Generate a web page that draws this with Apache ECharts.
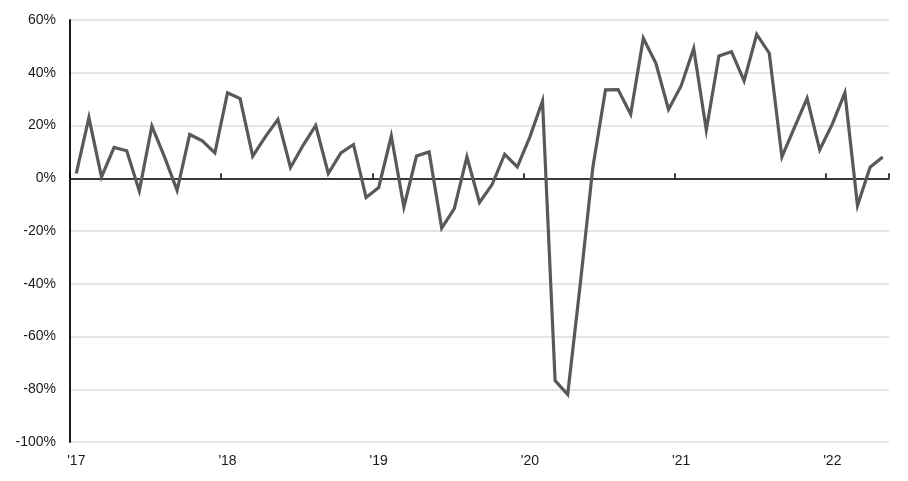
<!DOCTYPE html>
<html>
<head>
<meta charset="utf-8">
<script src="https://cdn.jsdelivr.net/npm/echarts@6/dist/echarts.min.js"></script>
<style>
html,body{margin:0;padding:0;background:#fff;}
#chart{width:908px;height:481px;}
</style>
</head>
<body>
<div id="chart"></div>
<script>
// Monthly categories, Jan 2017 .. May 2022
const years = [2017, 2018, 2019, 2020, 2021, 2022];
const yearLabels = ["'17", "'18", "'19", "'20", "'21", "'22"];
const lastYearMonths = 5;

// Year-over-year change (%)
const values2017 = [1.8, 23.0, 0.5, 11.7, 10.4, -4.8, 19.8, 8.1, -4.6, 16.6, 14.2, 9.6];
const values2018 = [32.4, 30.2, 8.4, 15.7, 22.3, 4.1, 12.5, 20.0, 1.8, 9.6, 12.8, -7.3];
const values2019 = [-3.5, 16.0, -10.9, 8.4, 10.0, -18.9, -11.5, 8.1, -9.2, -2.4, 9.1, 4.3];
const values2020 = [15.7, 29.3, -76.7, -82.0, -40.0, 4.3, 33.5, 33.6, 24.3, 53.1, 43.6, 26.1];
const values2021 = [35.0, 49.2, 18.3, 46.4, 48.0, 36.9, 54.6, 47.4, 8.1, 19.3, 30.3, 10.8];
const values2022 = [20.5, 32.4, -10.3, 4.2, 8.1];

const yTicks = { min: -100, max: 60, interval: 20 };

const values = [].concat(values2017, values2018, values2019, values2020, values2021, values2022);
const categories = [];
const catLabel = {};
years.forEach((y, yi) => {
  const n = (yi === years.length - 1) ? lastYearMonths : 12;
  for (let m = 1; m <= n; m++) {
    const key = y + '-' + (m < 10 ? '0' + m : m);
    categories.push(key);
    if (m === 1) catLabel[key] = yearLabels[yi];
  }
});

const FONT = 'Liberation Sans, Arial, sans-serif';
const chart = echarts.init(document.getElementById('chart'), null, { renderer: 'canvas' });
chart.setOption({
  animation: false,
  backgroundColor: '#ffffff',
  grid: { left: 70, right: 19, top: 20, bottom: 39, containLabel: false },
  xAxis: [
    {
      type: 'category',
      data: categories,
      position: 'bottom',
      boundaryGap: true,
      axisLine: { show: false, onZero: false },
      axisTick: { show: false },
      splitLine: { show: false },
      axisLabel: {
        show: true,
        interval: (idx) => idx % 12 === 0,
        formatter: (v) => catLabel[v] || '',
        color: '#1a1a1a',
        fontFamily: FONT,
        fontSize: 14,
        margin: 12
      }
    },
    {
      type: 'category',
      data: categories,
      boundaryGap: true,
      axisLine: { show: true, onZero: true, lineStyle: { color: '#000000', width: 1.5 } },
      axisTick: { show: true, inside: false, length: 5, interval: (idx) => idx % 12 === 0, lineStyle: { color: '#000000', width: 1.5 } },
      axisLabel: { show: false },
      splitLine: { show: false }
    }
  ],
  yAxis: {
    type: 'value',
    min: yTicks.min,
    max: yTicks.max,
    interval: yTicks.interval,
    axisLine: { show: true, lineStyle: { color: '#1a1a1a', width: 2 } },
    axisTick: { show: false },
    splitLine: { show: true, lineStyle: { color: '#dcdcdc', width: 1.5 } },
    axisLabel: {
      formatter: (v) => v + '%',
      color: '#1a1a1a',
      fontFamily: FONT,
      fontSize: 14,
      margin: 14
    }
  },
  series: [{
    type: 'line',
    xAxisIndex: 1,
    data: values,
    showSymbol: false,
    symbol: 'none',
    lineStyle: { color: '#58595b', width: 3.2, join: 'miter' },
    z: 3
  }]
});
</script>
</body>
</html>
